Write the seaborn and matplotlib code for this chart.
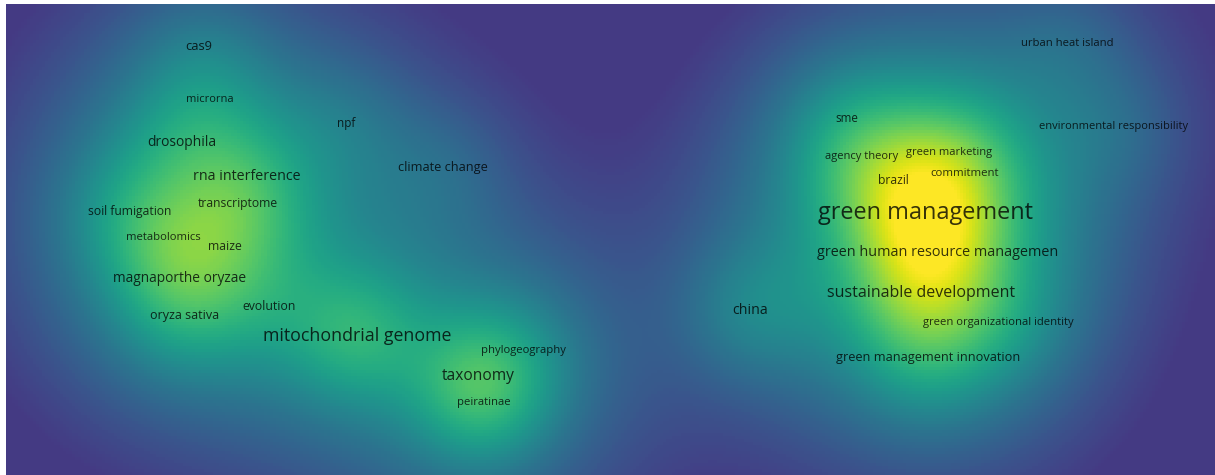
import numpy as np
import pandas as pd
import matplotlib
matplotlib.use("Agg")
import matplotlib.pyplot as plt
from matplotlib.colors import ListedColormap
import seaborn as sns

# keyword map (pixel-like layout coordinates from the map, y grows downward)
keywords = [
    "cas9", "microrna", "npf", "drosophila", "climate change", "rna interference",
    "soil fumigation", "transcriptome", "metabolomics", "maize", "magnaporthe oryzae",
    "oryza sativa", "evolution", "mitochondrial genome", "phylogeography", "taxonomy",
    "peiratinae",
    "urban heat island", "sme", "environmental responsibility", "agency theory",
    "green marketing", "brazil", "commitment", "green management",
    "green human resource managemen", "sustainable development", "china",
    "green organizational identity", "green management innovation",
]
pos_x = [199, 210, 346, 182, 443, 247, 130, 238, 163, 225, 180, 185, 269, 357, 523,
         478, 484,
         1067, 847, 1114, 862, 949, 893, 965, 925, 938, 921, 750, 998, 928]
pos_y = [47, 100, 124, 143, 168, 177, 211, 204, 237, 246, 279, 316, 306, 336, 351,
         376, 403,
         44, 119, 127, 156, 152, 180, 174, 213, 253, 293, 311, 322, 358]
occurrences = [2, 2, 2, 3, 2, 3, 3, 3, 3, 3, 4, 3, 2, 7, 2, 6, 5,
               2, 2, 2, 3, 3, 4, 4, 8, 6, 6, 4, 3, 4]
label_size = [9.3, 8, 8.5, 10, 9.2, 10.3, 8.7, 8.7, 8.1, 8.8, 9.9, 9, 8.8, 12.8, 8.1,
              11.2, 8.1,
              8.1, 8.4, 8, 8, 8, 8.7, 8.2, 16.9, 10.4, 11.5, 10.2, 8.1, 9.2]

df = pd.DataFrame({"keyword": keywords, "x": pos_x, "y": pos_y,
                   "occ": occurrences, "size": label_size})

# map area inside the image (thin white margin on top and left)
x0, y0 = 6, 4
width, height = 1209, 471
step = 3
gx = x0 + np.arange(0, width, step) + step / 2
gy = y0 + np.arange(0, height, step) + step / 2
XX, YY = np.meshgrid(gx, gy)


def kernel_sum(sigma):
    out = np.zeros_like(XX)
    for _, r in df.iterrows():
        d2 = (XX - r["x"]) ** 2 + (YY - r["y"]) ** 2
        out += r["occ"] * np.exp(-d2 / (2 * sigma ** 2))
    return out


# sharp kernel plus a softer halo
dens = kernel_sum(46) + 0.5 * kernel_sum(105)
dens = (dens / dens.max()) ** 0.7

cmap = ListedColormap(plt.cm.viridis(np.linspace(0.17, 1.0, 256)))

fig = plt.figure(figsize=(12.15, 4.75), dpi=100)
ax = fig.add_axes([x0 / 1215, 0, width / 1215, height / 475])
sns.heatmap(dens, cmap=cmap, vmin=0.08, vmax=0.92, cbar=False, ax=ax,
            xticklabels=False, yticklabels=False, rasterized=True)
ax.set_axis_off()

for _, r in df.iterrows():
    ax.text((r["x"] - x0) / step, (r["y"] - y0) / step, r["keyword"],
            ha="center", va="center", fontsize=r["size"],
            family=["Open Sans", "DejaVu Sans"], color="black", alpha=0.78)

fig.savefig("out.png", dpi=100, facecolor="white")
